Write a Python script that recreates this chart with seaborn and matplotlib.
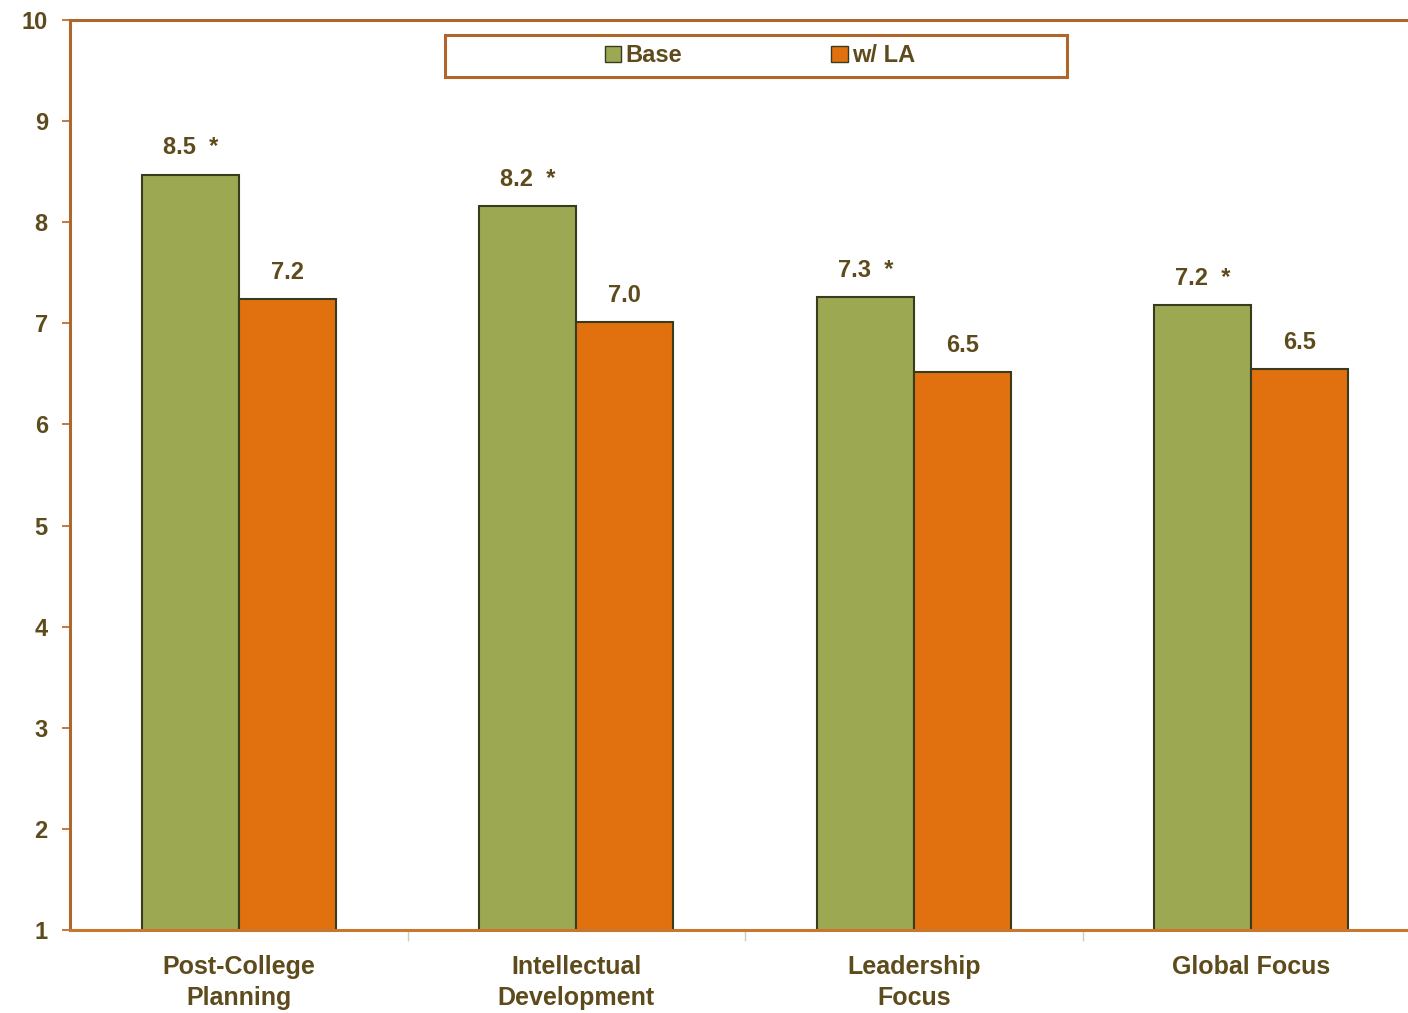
import matplotlib
matplotlib.use("Agg")
import matplotlib.pyplot as plt
from matplotlib.patches import Rectangle
import seaborn as sns
import pandas as pd

categories = ["Post-College\nPlanning", "Intellectual\nDevelopment", "Leadership\nFocus", "Global Focus"]
series_names = ["Base", "w/ LA"]
base_values = [8.47, 8.16, 7.26, 7.18]
la_values = [7.24, 7.01, 6.52, 6.55]
base_labels = ["8.5  *", "8.2  *", "7.3  *", "7.2  *"]
la_labels = ["7.2", "7.0", "6.5", "6.5"]
y_ticks = [1, 2, 3, 4, 5, 6, 7, 8, 9, 10]

df = pd.DataFrame({
    "category": categories * 2,
    "series": [series_names[0]] * 4 + [series_names[1]] * 4,
    "value": base_values + la_values,
})

sns.set_theme(style="white")
plt.rcParams["font.family"] = ["Liberation Sans", "DejaVu Sans"]
plt.rcParams["font.weight"] = "bold"

text_color = "#5E4B1C"
spine_color = "#B0652A"
colors = {"Base": "#9DA853", "w/ LA": "#E0710E"}

fig = plt.figure(figsize=(14.08, 10.13), dpi=100)
ax = fig.add_axes([70 / 1408, 1 - 930 / 1013, 1350 / 1408, 910 / 1013])

sns.barplot(data=df, x="category", y="value", hue="series", palette=colors,
            saturation=1, width=0.575, gap=0, edgecolor="#3A3A1E", linewidth=1.5,
            ax=ax, legend=True)

ax.set_ylim(1, 10)
ax.set_xlim(-0.5, 3.5)
ax.set_yticks(y_ticks)
ax.set_xlabel("")
ax.set_ylabel("")

for container, labels in zip(ax.containers, [base_labels, la_labels]):
    ax.bar_label(container, labels=labels, padding=11, color=text_color,
                 fontsize=17, fontweight="bold")

ax.tick_params(axis="y", colors=spine_color, labelcolor=text_color, labelsize=17,
               length=6, width=1.2, direction="out", left=True, pad=10)
ax.tick_params(axis="x", labelcolor=text_color, labelsize=18, length=0, pad=18)
ax.set_xticks([0.5, 1.5, 2.5], minor=True)
ax.tick_params(axis="x", which="minor", length=8, color="#D8C8B0", width=1, bottom=True)
for lab in ax.get_xticklabels():
    lab.set_fontweight("bold")
    lab.set_linespacing(1.35)
for lab in ax.get_yticklabels():
    lab.set_fontweight("bold")

for side in ["left", "top", "bottom", "right"]:
    ax.spines[side].set_color(spine_color)
    ax.spines[side].set_linewidth(2.2)
ax.spines["bottom"].set_color("#C8782E")

# legend box frame
box = Rectangle(((445 - 70) / 1350, (930 - 77) / 910), 622 / 1350, 42 / 910,
                transform=ax.transAxes, fill=True, facecolor="white",
                edgecolor=spine_color, linewidth=2.2, zorder=5)
ax.add_patch(box)

handles, lbls = ax.get_legend_handles_labels()
leg = ax.legend(handles, lbls, loc="center",
                bbox_to_anchor=((760 - 70) / 1350, (930 - 56) / 910),
                ncol=2, frameon=False,
                handlelength=0.7, handleheight=0.7, handletextpad=0.2,
                columnspacing=6.3, borderaxespad=0, fontsize=17)
leg.set_zorder(6)
for t in leg.get_texts():
    t.set_color(text_color)
    t.set_fontweight("bold")
for h in leg.legend_handles:
    h.set_edgecolor("#3A3A1E")
    h.set_linewidth(1.0)

fig.savefig("out.png", dpi=100)
